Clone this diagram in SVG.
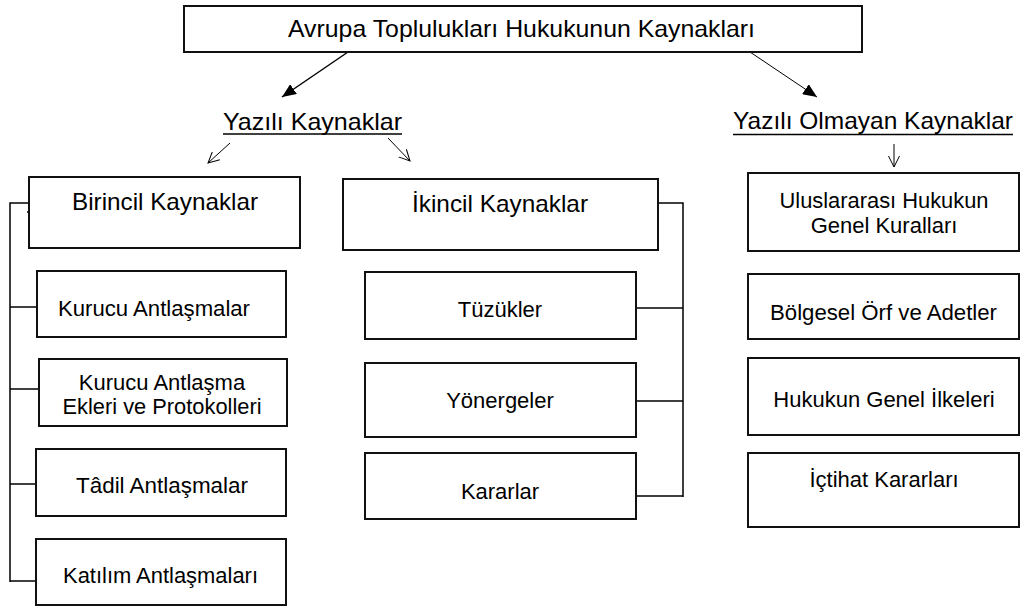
<svg xmlns="http://www.w3.org/2000/svg" width="1024" height="607" viewBox="0 0 1024 607">
<style>
  .box { fill: #fff; stroke: #111; stroke-width: 2; }
  .t { font-family: "Liberation Sans", Arial, sans-serif; fill: #000; text-anchor: middle; }
  .s22 { font-size: 22px; }
  .s24 { font-size: 24px; }
  .ln { stroke: #000; stroke-width: 1.5; fill: none; }
  .thin { stroke: #000; stroke-width: 1; fill: none; }
</style>
<defs>
  <marker id="tri" viewBox="0 0 14 12" refX="14" refY="6" markerWidth="14" markerHeight="12" markerUnits="userSpaceOnUse" orient="auto">
    <path d="M0,0 L14,6 L0,12 z" fill="#000"/>
  </marker>
  <marker id="vee" viewBox="0 0 12 12" refX="11" refY="6" markerWidth="12" markerHeight="12" markerUnits="userSpaceOnUse" orient="auto">
    <path d="M0,0.5 L11,6 L0,11.5" fill="none" stroke="#000" stroke-width="1"/>
  </marker>
</defs>
<rect width="1024" height="607" fill="#fff"/>

<g id="connectors">
  <line class="ln" x1="348" y1="52" x2="282" y2="97" marker-end="url(#tri)"/>
  <line class="thin" x1="750" y1="52" x2="817" y2="97" marker-end="url(#tri)"/>
  <line class="thin" x1="230" y1="143" x2="208" y2="163" marker-end="url(#vee)"/>
  <line class="thin" x1="388" y1="138" x2="410" y2="161" marker-end="url(#vee)"/>
  <line class="thin" x1="894" y1="144" x2="894" y2="167" marker-end="url(#vee)"/>
  <!-- left bracket -->
  <path class="ln" d="M33,203 H10 V582"/>
  <line class="ln" x1="27" y1="212" x2="30" y2="212"/>
  <line class="ln" x1="10" y1="307" x2="37" y2="307"/>
  <line class="ln" x1="10" y1="389" x2="39" y2="389"/>
  <line class="ln" x1="10" y1="484" x2="36" y2="484"/>
  <line class="ln" x1="10" y1="581" x2="36" y2="581"/>
  <!-- right bracket -->
  <path class="ln" d="M658,203 H683 V497"/>
  <line class="ln" x1="636" y1="308" x2="683" y2="308"/>
  <line class="ln" x1="636" y1="401" x2="683" y2="401"/>
  <line class="ln" x1="636" y1="496" x2="683" y2="496"/>
</g>

<g id="root">
  <rect class="box" x="184" y="6" width="678" height="46"/>
  <text class="t s24" x="521.5" y="37" textLength="467" lengthAdjust="spacingAndGlyphs">Avrupa Toplulukları Hukukunun Kaynakları</text>
</g>

<g id="yazili">
  <text class="t s24" x="312.5" y="130" textLength="179" lengthAdjust="spacingAndGlyphs">Yazılı Kaynaklar</text>
  <line class="ln" x1="223" y1="134" x2="402" y2="134"/>
</g>

<g id="yazili-olmayan">
  <text class="t s24" x="873" y="129" textLength="280" lengthAdjust="spacingAndGlyphs">Yazılı Olmayan Kaynaklar</text>
  <line class="ln" x1="733" y1="134.5" x2="1013" y2="134.5"/>
</g>

<g id="birincil">
  <rect class="box" x="29" y="177" width="271" height="71"/>
  <text class="t s24" x="165" y="210" textLength="186" lengthAdjust="spacingAndGlyphs">Birincil Kaynaklar</text>
</g>
<g id="kurucu">
  <rect class="box" x="37" y="271" width="249" height="66"/>
  <text class="t s22" x="154" y="316" textLength="192" lengthAdjust="spacingAndGlyphs">Kurucu Antlaşmalar</text>
</g>
<g id="kurucu-ekleri">
  <rect class="box" x="39" y="359" width="248" height="67"/>
  <text class="t s22" x="162" y="390">Kurucu Antlaşma</text>
  <text class="t s22" x="162" y="414" textLength="199" lengthAdjust="spacingAndGlyphs">Ekleri ve Protokolleri</text>
</g>
<g id="tadil">
  <rect class="box" x="36" y="449" width="250" height="67"/>
  <text class="t s22" x="162" y="493" textLength="172" lengthAdjust="spacingAndGlyphs">Tâdil Antlaşmalar</text>
</g>
<g id="katilim">
  <rect class="box" x="36" y="539" width="250" height="66"/>
  <text class="t s22" x="160.5" y="583" textLength="195" lengthAdjust="spacingAndGlyphs">Katılım Antlaşmaları</text>
</g>

<g id="ikincil">
  <rect class="box" x="343" y="179" width="315" height="71"/>
  <text class="t s24" x="500" y="212" textLength="176" lengthAdjust="spacingAndGlyphs">İkincil Kaynaklar</text>
</g>
<g id="tuzukler">
  <rect class="box" x="365" y="272" width="271" height="67"/>
  <text class="t s22" x="500" y="317">Tüzükler</text>
</g>
<g id="yonergeler">
  <rect class="box" x="365" y="363" width="271" height="74"/>
  <text class="t s22" x="500" y="408">Yönergeler</text>
</g>
<g id="kararlar">
  <rect class="box" x="365" y="453" width="271" height="66"/>
  <text class="t s22" x="500" y="499">Kararlar</text>
</g>

<g id="uluslararasi">
  <rect class="box" x="748" y="173" width="271" height="78"/>
  <text class="t s22" x="884" y="208" textLength="209" lengthAdjust="spacingAndGlyphs">Uluslararası Hukukun</text>
  <text class="t s22" x="884" y="233">Genel Kuralları</text>
</g>
<g id="bolgesel">
  <rect class="box" x="748" y="274" width="271" height="65"/>
  <text class="t s22" x="883.5" y="320" textLength="227" lengthAdjust="spacingAndGlyphs">Bölgesel Örf ve Adetler</text>
</g>
<g id="genel-ilkeler">
  <rect class="box" x="748" y="358" width="271" height="77"/>
  <text class="t s22" x="884" y="407">Hukukun Genel İlkeleri</text>
</g>
<g id="ictihat">
  <rect class="box" x="748" y="453" width="271" height="74"/>
  <text class="t s22" x="884" y="487">İçtihat Kararları</text>
</g>
</svg>
